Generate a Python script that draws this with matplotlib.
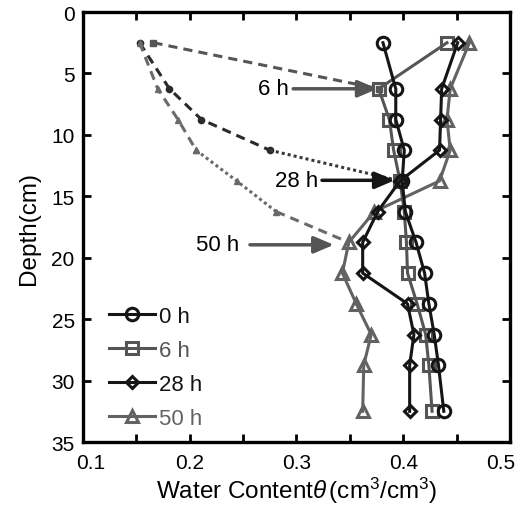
import matplotlib
matplotlib.use('Agg')
import matplotlib.pyplot as plt
import matplotlib.transforms as mtransforms

plt.rcParams['font.family'] = ['Liberation Sans', 'DejaVu Sans']
plt.rcParams['mathtext.fontset'] = 'custom'
plt.rcParams['mathtext.rm'] = 'Liberation Sans'
plt.rcParams['mathtext.it'] = 'Liberation Sans:italic'

# measured profiles (depth in cm, water content in cm3/cm3)
depth = [2.5, 6.25, 8.75, 11.25, 13.75, 16.25, 18.75, 21.25, 23.75, 26.25, 28.75, 32.5]
theta_0h = [0.381, 0.393, 0.393, 0.401, 0.399, 0.402, 0.412, 0.420, 0.424, 0.429, 0.433, 0.438]
theta_6h = [0.441, 0.377, 0.387, 0.391, 0.397, 0.401, 0.403, 0.404, 0.413, 0.421, 0.424, 0.427]
theta_28h = [0.451, 0.436, 0.435, 0.434, 0.397, 0.376, 0.362, 0.362, 0.404, 0.410, 0.406, 0.406]
theta_50h = [0.462, 0.444, 0.441, 0.444, 0.434, 0.373, 0.349, 0.343, 0.356, 0.370, 0.363, 0.362]

# estimated wetting-front extensions
front6_depth = [2.5, 6.25]
front6_theta = [0.166, 0.377]
front28_depth = [2.5, 6.25, 8.75, 11.25]
front28_theta = [0.153, 0.181, 0.211, 0.275]
front50_depth = [2.5, 6.25, 8.75, 11.25, 13.75, 16.25]
front50_theta = [0.153, 0.170, 0.189, 0.206, 0.244, 0.281]

labels = ['0 h', '6 h', '28 h', '50 h']
black = '#151515'
gray = '#555555'
gray2 = '#626262'

fig = plt.figure(figsize=(5.25, 5.06), dpi=100)
ax = fig.add_axes([0.1581, 0.1245, 0.8133, 0.8498])

# front lines
ax.plot(front6_theta, front6_depth, ls=(0, (3, 2)), color=gray, lw=2.2,
        marker='s', ms=4, mfc=gray, mec=gray, zorder=2)
ax.plot(front28_theta, front28_depth, ls=(0, (3, 2)), color='#2a2a2a', lw=2.2,
        marker='o', ms=4.5, mfc='#2a2a2a', mec='#2a2a2a', zorder=2)
ax.plot([front28_theta[-1], theta_28h[4]], [front28_depth[-1], depth[4]],
        ls=(0, (1, 1)), color='#3a3a3a', lw=2.2, zorder=2)
ax.plot(front50_theta[:4], front50_depth[:4], ls=(0, (3, 2)), color='#6a6a6a', lw=2.2,
        marker='^', ms=5, mfc='#6a6a6a', mec='#6a6a6a', zorder=2)
ax.plot(front50_theta[3:], front50_depth[3:], ls=(0, (1, 1)), color='#6a6a6a', lw=2.2,
        marker='^', ms=5, mfc='#6a6a6a', mec='#6a6a6a', zorder=2)
ax.plot([front50_theta[-1], theta_50h[6]], [front50_depth[-1], depth[6]],
        ls=(0, (3, 2)), color='#6a6a6a', lw=2.2, zorder=2)

# measured profiles
l0, = ax.plot(theta_0h, depth, color=black, lw=2.2, marker='o', ms=9,
              mfc='none', mec=black, mew=2.2, zorder=5, label=labels[0])
l6, = ax.plot(theta_6h, depth, color=gray, lw=2.2, marker='s', ms=9,
              mfc='none', mec=gray, mew=2.2, zorder=4, label=labels[1])
l28, = ax.plot(theta_28h, depth, color=black, lw=2.2, marker='D', ms=6.5,
               mfc='none', mec=black, mew=2.2, zorder=6, label=labels[2])
l50, = ax.plot(theta_50h, depth, color=gray2, lw=2.2, marker='^', ms=9,
               mfc='none', mec=gray2, mew=2.2, zorder=3, label=labels[3])

# arrows
arrow = '-|>,head_length=0.75,head_width=0.32'
ax.annotate('6 h', xy=(0.376, 6.25), xytext=(0.293, 6.25), fontsize=16,
            ha='right', va='center',
            arrowprops=dict(arrowstyle=arrow, color=gray, lw=2.5, shrinkA=1, shrinkB=0))
ax.annotate('28 h', xy=(0.392, 13.7), xytext=(0.320, 13.7), fontsize=16,
            ha='right', va='center',
            arrowprops=dict(arrowstyle=arrow, color=black, lw=2.5, shrinkA=1, shrinkB=0))
ax.annotate('50 h', xy=(0.335, 18.95), xytext=(0.246, 18.95), fontsize=16,
            ha='right', va='center',
            arrowprops=dict(arrowstyle=arrow, color=gray, lw=2.5, shrinkA=6, shrinkB=0))

ax.set_xlim(0.1, 0.5)
ax.set_ylim(35, 0)
ax.set_xticks([0.1, 0.2, 0.3, 0.4, 0.5])
ax.set_xticklabels(['0.1', '0.2', '0.3', '0.4', '0.5'])
ax.set_xticks([0.15, 0.25, 0.35, 0.45], minor=True)
ax.set_yticks(range(0, 36, 5))
ax.tick_params(which='both', direction='in', top=True, right=True, length=6,
               width=2, labelsize=15)
ax.tick_params(axis='x', pad=8)
ax.tick_params(axis='y', pad=6)
for s in ax.spines.values():
    s.set_linewidth(2.4)

# end labels of the x axis sit slightly inward in the original
xt = ax.get_xticklabels()
xt[0].set_transform(xt[0].get_transform() + mtransforms.ScaledTranslation(8 / 100, 0, fig.dpi_scale_trans))
xt[-1].set_transform(xt[-1].get_transform() + mtransforms.ScaledTranslation(-9 / 100, 0, fig.dpi_scale_trans))

ax.set_xlabel(r'Water Content$\theta\,$(cm$^3$/cm$^3$)', fontsize=17.5, labelpad=2)
ax.set_ylabel('Depth(cm)', fontsize=17.5, labelpad=8)

leg = ax.legend(handles=[l0, l6, l28, l50], loc='lower left', frameon=False,
                fontsize=16, handlelength=2.07, handletextpad=0.2,
                labelspacing=0.58, borderaxespad=0, bbox_to_anchor=(0.04, 0.01))
for txt, c in zip(leg.get_texts(), [black, gray, black, gray2]):
    txt.set_color(c)

fig.savefig('out.png', dpi=100)
